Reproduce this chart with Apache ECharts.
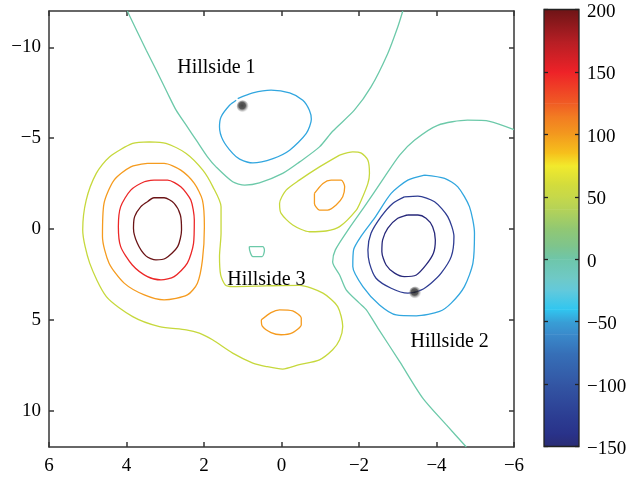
<!DOCTYPE html>
<html>
<head>
<meta charset="utf-8">
<script src="https://cdn.jsdelivr.net/npm/echarts@6/dist/echarts.min.js"></script>
<style>
  html, body { margin: 0; padding: 0; background: #fff; }
  #chart { width: 633px; height: 477px; }
</style>
</head>
<body>
<div id="chart"></div>
<script>
const SERIF = '"Liberation Serif", "Times New Roman", serif';
const INK = '#000';
const FRAME = '#363636';

// tick labels
const xTicks = [6, 4, 2, 0, -2, -4, -6];
const yTicks = [-10, -5, 0, 5, 10];
const barTicks = [200, 150, 100, 50, 0, -50, -100, -150];

// contour lines, [x, y] pairs
const ridgeNorth = [[3.98, -12], [3.49, -9.84], [3.23, -8.74], [2.94, -7.47], [2.72, -6.54], [2.43, -5.62],
  [2.20, -4.89], [1.91, -3.97], [1.69, -3.42], [1.26, -2.60], [0.95, -2.42], [0.57, -2.54], [-0.03, -3.06],
  [-0.46, -3.68], [-0.98, -4.52], [-1.32, -5.38], [-1.88, -6.54], [-2.31, -7.82], [-2.74, -9.65],
  [-3.00, -11.12], [-3.13, -12]];
const ridgeEast = [[-6.0, -5.47], [-5.37, -5.93], [-4.80, -5.99], [-4.03, -5.71], [-3.43, -4.89], [-3.05, -4.07],
  [-2.66, -2.87], [-2.14, -1.23], [-1.75, -0.05], [-1.39, 1.15], [-1.32, 1.81], [-1.50, 2.53], [-1.67, 3.35],
  [-2.01, 4.08], [-2.19, 4.45], [-2.50, 5.50], [-3.05, 7.30], [-3.64, 9.29], [-4.25, 10.77], [-4.77, 12]];
const zeroPocket = [[0.83, 0.97], [0.48, 0.97], [0.44, 1.15], [0.50, 1.52], [0.74, 1.52], [0.83, 1.04], [0.83, 0.97]];
const hill1Ring = [[1.13, -7.18], [0.74, -7.49], [0.27, -7.64], [-0.21, -7.49], [-0.55, -7.09], [-0.72, -6.54],
  [-0.77, -6.04], [-0.64, -5.26], [-0.21, -4.34], [0.22, -3.88], [0.74, -3.64], [1.08, -3.85], [1.26, -4.16],
  [1.51, -4.89], [1.60, -5.62], [1.56, -6.17], [1.34, -6.81], [1.17, -7.09]];
const valleyOuter = [[-3.69, -2.97], [-4.21, -2.79], [-4.55, -2.32], [-4.85, -1.23], [-4.98, 0.24], [-4.94, 1.88],
  [-4.72, 3.17], [-4.38, 4.08], [-4.08, 4.54], [-3.48, 4.78], [-2.96, 4.73], [-2.53, 4.18], [-2.10, 3.17],
  [-1.84, 2.07], [-1.86, 1.15], [-2.06, 0.38], [-2.40, -0.60], [-2.83, -1.96], [-3.26, -2.69], [-3.69, -2.97]];
const valleyMid = [[-3.17, -1.77], [-3.52, -1.81], [-3.95, -1.50], [-4.29, -0.68], [-4.45, 0.42], [-4.38, 1.52],
  [-4.12, 2.43], [-3.86, 2.98], [-3.61, 3.35], [-3.26, 3.53], [-2.83, 3.26], [-2.44, 2.71], [-2.27, 1.88],
  [-2.23, 1.15], [-2.31, 0.24], [-2.57, -0.68], [-2.87, -1.41], [-3.17, -1.77]];
const valleyCore = [[-3.26, -0.77], [-3.52, -0.77], [-3.73, -0.59], [-3.90, -0.13], [-3.97, 0.60], [-3.92, 1.34],
  [-3.73, 1.98], [-3.48, 2.53], [-3.17, 2.62], [-2.92, 2.43], [-2.70, 1.98], [-2.59, 1.25], [-2.61, 0.60],
  [-2.74, -0.04], [-3.00, -0.59], [-3.26, -0.77]];
const westRing50 = [[3.41, -4.80], [2.98, -4.71], [2.46, -4.16], [2.03, -3.24], [1.77, -2.32], [1.56, -1.23],
  [1.56, 0.24], [1.60, 1.52], [1.57, 2.53], [1.45, 3.08], [1.26, 3.17], [0.39, 3.13], [-0.46, 3.10],
  [-1.07, 3.53], [-1.45, 4.27], [-1.58, 5.37], [-1.50, 6.10], [-1.32, 6.65], [-0.98, 7.20], [-0.46, 7.47],
  [-0.03, 7.71], [0.39, 7.57], [0.74, 7.38], [1.26, 6.83], [1.78, 6.10], [2.12, 5.73], [2.46, 5.55],
  [3.15, 5.37], [3.84, 4.82], [4.52, 3.72], [4.95, 1.88], [5.13, 0.05], [5.04, -1.59], [4.78, -3.06],
  [4.44, -3.97], [3.84, -4.71], [3.41, -4.80]];
const westRing100 = [[3.46, -3.61], [3.03, -3.61], [2.60, -3.24], [2.25, -2.51], [2.04, -1.59], [1.99, -0.13],
  [2.04, 1.70], [2.17, 2.98], [2.43, 3.63], [3.03, 3.90], [3.54, 3.63], [4.06, 2.98], [4.45, 1.88],
  [4.62, 0.42], [4.58, -1.41], [4.32, -2.69], [3.89, -3.42], [3.46, -3.61]];
const westRing150 = [[3.29, -2.69], [2.94, -2.69], [2.60, -2.32], [2.34, -1.59], [2.25, -0.49], [2.27, 0.79],
  [2.43, 1.88], [2.77, 2.62], [3.11, 2.80], [3.46, 2.62], [3.85, 1.98], [4.15, 0.97], [4.21, -0.13],
  [4.15, -1.23], [3.89, -2.14], [3.54, -2.60], [3.29, -2.69]];
const westRing200 = [[3.46, -1.50], [3.29, -1.72], [3.03, -1.72], [2.77, -1.41], [2.61, -0.77], [2.58, 0.05],
  [2.68, 0.97], [2.99, 1.61], [3.24, 1.70], [3.50, 1.48], [3.72, 0.79], [3.82, -0.04], [3.79, -0.68],
  [3.63, -1.23], [3.46, -1.50]];
const eastRing50 = [[-1.50, -4.07], [-1.84, -4.25], [-2.06, -4.18], [-2.23, -3.79], [-2.27, -3.06], [-2.23, -2.51],
  [-2.06, -1.59], [-1.93, -1.04], [-1.50, -0.13], [-1.15, 0.11], [-0.72, 0.15], [-0.29, -0.22], [0.01, -0.86],
  [0.05, -1.41], [-0.12, -2.14], [-0.46, -2.69], [-0.98, -3.42], [-1.50, -4.07]];
const eastBump100 = [[-0.85, -1.96], [-1.07, -2.51], [-1.28, -2.69], [-1.54, -2.69], [-1.63, -2.32], [-1.58, -1.77],
  [-1.41, -1.32], [-1.19, -1.04], [-0.98, -1.04], [-0.85, -1.41], [-0.85, -1.96]];
const southBump100 = [[0.52, 5.00], [0.27, 4.60], [0.05, 4.45], [-0.29, 4.51], [-0.51, 4.91], [-0.51, 5.27],
  [-0.29, 5.70], [0.01, 5.82], [0.27, 5.70], [0.50, 5.33], [0.52, 5.00]];

// level of each line
const contours = [
  [0, ridgeNorth], [0, ridgeEast], [0, zeroPocket],
  [-50, hill1Ring], [-50, valleyOuter], [-100, valleyMid], [-150, valleyCore],
  [50, westRing50], [100, westRing100], [150, westRing150], [200, westRing200],
  [50, eastRing50], [100, eastBump100], [100, southBump100],
];

// the two shaded balls and the place names
const balls = [[1.00, -6.76], [-3.45, 3.50]];
const placeNames = ['Hillside 1', 'Hillside 2', 'Hillside 3'];
const placeAt = [[1.68, -8.90], [-4.34, 6.21], [0.39, 2.80]];

// colour bar stops: value -> colour
const barValues = [-150, -140, -125, -100, -75, -60, -50, -40, -25, -15, 0, 10, 25, 40, 50, 60, 75, 85, 100, 115, 125, 150, 175, 200];
const barColors = ['#2a2c74', '#293289', '#2c3e93', '#3356a4', '#3670b8', '#3a8acb', '#389fd6', '#30c6f0',
  '#62c9dc', '#6fc9c6', '#6ec6aa', '#7dc48e', '#92c872', '#b4d258', '#c6d84a', '#d3dc3c', '#f2ea2c',
  '#f6c11c', '#f39a1e', '#f27a22', '#f05c24', '#ee2228', '#b41e24', '#6e1416'];

const lineColor = { '-150': '#27287a', '-100': '#2e3c92', '-50': '#31a6df', '0': '#6cc9a9',
  '50': '#c6d83c', '100': '#f59b1f', '150': '#ec2727', '200': '#6b1416' };

const minus = (v) => String(v).replace('-', '\u2212');
const tickStyle = { color: FRAME, width: 1.5 };
const labelFont = { fontFamily: SERIF, fontSize: 19, color: INK };

const chart = echarts.init(document.getElementById('chart'), null, { renderer: 'canvas' });

const frameAxis = (extra) => Object.assign({
  type: 'value',
  gridIndex: 0,
  axisLine: { show: true, onZero: false, lineStyle: { color: FRAME, width: 1.5 } },
  axisTick: { show: true, inside: true, length: 5, lineStyle: tickStyle },
  splitLine: { show: false },
}, extra);

const series = contours.map(([level, pts]) => ({
  type: 'line',
  data: pts,
  symbol: 'none',
  smooth: 0.25,
  lineStyle: { color: lineColor[level], width: 1.3 },
  silent: true,
  z: 2,
}));

series.push({
  type: 'scatter',
  data: balls,
  symbolSize: 12,
  itemStyle: {
    color: new echarts.graphic.RadialGradient(0.45, 0.45, 0.55, [
      { offset: 0, color: '#161616' },
      { offset: 0.5, color: '#303030' },
      { offset: 1, color: 'rgba(150,150,150,0.1)' },
    ]),
  },
  z: 4,
});

series.push({
  type: 'scatter',
  data: placeNames.map((n, i) => ({ name: n, value: placeAt[i] })),
  symbolSize: 0,
  itemStyle: { color: 'transparent' },
  label: { show: true, position: 'inside', formatter: '{b}', fontFamily: SERIF, fontSize: 20,
    color: INK, textBorderWidth: 0, opacity: 1 },
  emphasis: { disabled: true },
  z: 5,
});

series.push({
  type: 'custom',
  xAxisIndex: 2,
  yAxisIndex: 2,
  data: barValues.slice(0, -1).map((v, i) => [v, barValues[i + 1], i]),
  renderItem: (params, api) => {
    const i = api.value(2);
    const lo = api.coord([0, api.value(0)]);
    const hi = api.coord([1, api.value(1)]);
    return {
      type: 'rect',
      shape: { x: lo[0], y: hi[1], width: hi[0] - lo[0], height: lo[1] - hi[1] + 0.6 },
      style: {
        fill: new echarts.graphic.LinearGradient(0, 0, 0, 1, [
          { offset: 0, color: barColors[i + 1] },
          { offset: 1, color: barColors[i] },
        ]),
      },
    };
  },
  silent: true,
  z: 1,
});

chart.setOption({
  animation: false,
  backgroundColor: '#fff',
  grid: [
    { left: 49, top: 11, width: 465, height: 436 },
    { left: 544, top: 9.5, width: 35, height: 437, show: true, borderColor: '#222', borderWidth: 1.3, z: 3 },
  ],
  xAxis: [
    frameAxis({ min: -6, max: 6, interval: 2, inverse: true, position: 'bottom',
      axisLabel: Object.assign({ margin: 10, formatter: minus }, labelFont) }),
    frameAxis({ min: -6, max: 6, interval: 2, inverse: true, position: 'top', axisLabel: { show: false } }),
    { type: 'value', gridIndex: 1, min: 0, max: 1, show: false },
  ],
  yAxis: [
    frameAxis({ min: -12, max: 12, inverse: true, position: 'left',
      axisTick: { show: true, inside: true, length: 5, lineStyle: tickStyle, customValues: yTicks },
      axisLabel: Object.assign({ margin: 8, formatter: minus, customValues: yTicks }, labelFont) }),
    frameAxis({ min: -12, max: 12, inverse: true, position: 'right',
      axisTick: { show: true, inside: true, length: 5, lineStyle: tickStyle, customValues: yTicks },
      axisLabel: { show: false } }),
    { type: 'value', gridIndex: 1, min: -150, max: 200, interval: 50, position: 'left',
      axisLine: { show: false }, splitLine: { show: false }, axisLabel: { show: false },
      axisTick: { show: true, inside: true, length: 4, lineStyle: { color: '#222', width: 1.3 } }, z: 4 },
    { type: 'value', gridIndex: 1, min: -150, max: 200, interval: 50, position: 'right',
      axisLine: { show: false }, splitLine: { show: false },
      axisTick: { show: true, inside: true, length: 4, lineStyle: { color: '#222', width: 1.3 } },
      axisLabel: Object.assign({ margin: 8, formatter: minus, verticalAlign: 'top', padding: [-7, 0, 0, 0] }, labelFont), z: 4 },
  ],
  series,
});
</script>
</body>
</html>
